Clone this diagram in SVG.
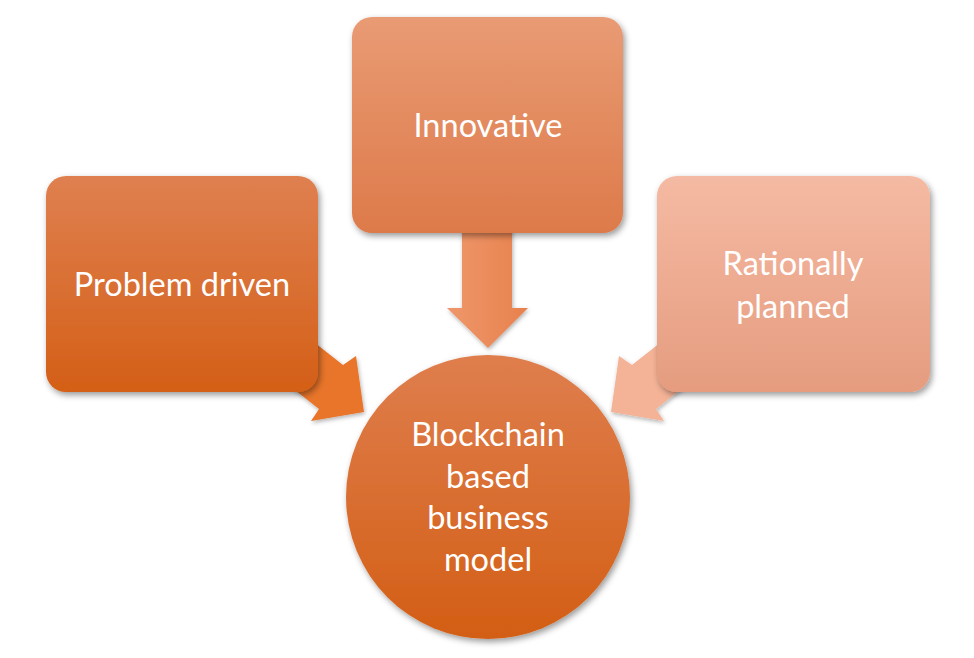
<svg xmlns="http://www.w3.org/2000/svg" width="974" height="658" viewBox="0 0 974 658">
  <defs>
    <linearGradient id="gLeft" x1="0" y1="0" x2="0" y2="1">
      <stop offset="0" stop-color="#DF8050"/>
      <stop offset="1" stop-color="#D45F17"/>
    </linearGradient>
    <linearGradient id="gTop" x1="0" y1="0" x2="0" y2="1">
      <stop offset="0" stop-color="#E99B74"/>
      <stop offset="1" stop-color="#DD7A4A"/>
    </linearGradient>
    <linearGradient id="gRight" x1="0" y1="0" x2="0" y2="1">
      <stop offset="0" stop-color="#F5BAA3"/>
      <stop offset="1" stop-color="#E59C7F"/>
    </linearGradient>
    <linearGradient id="gCircle" x1="0" y1="0" x2="0" y2="1">
      <stop offset="0" stop-color="#DF7E4D"/>
      <stop offset="1" stop-color="#D35E15"/>
    </linearGradient>
    <linearGradient id="gDown" x1="0" y1="0" x2="1" y2="0">
      <stop offset="0" stop-color="#EE976B"/>
      <stop offset="1" stop-color="#E8814D"/>
    </linearGradient>
    <filter id="shadow" x="-10%" y="-10%" width="130%" height="130%">
      <feDropShadow dx="2" dy="3" stdDeviation="3" flood-color="#000" flood-opacity="0.4"/>
    </filter>
    <filter id="ashadow" x="-20%" y="-20%" width="140%" height="140%">
      <feDropShadow dx="1" dy="2" stdDeviation="2" flood-color="#000" flood-opacity="0.3"/>
    </filter>
  </defs>
  <style>
    .lbl { font-family: Lato, "Liberation Sans", sans-serif; font-size: 32.5px; fill: #FFFFFF; text-anchor: middle; }
  </style>
  <rect width="974" height="658" fill="#FFFFFF"/>

  <g id="connectors">
    <polygon filter="url(#ashadow)" fill="#E8742B" points="296,328 343,365 356,356 364,412 311,421 319,409 272,372"/>
    <polygon filter="url(#ashadow)" fill="url(#gDown)" points="462,225 512,225 512,308 528,308 488,348 447,308 462,308"/>
    <polygon filter="url(#ashadow)" fill="#F4B296" points="679,328 632,365 619,356 611,412 664,421 656,409 703,372"/>
  </g>

  <g id="node-center">
    <circle cx="488" cy="497" r="142" fill="url(#gCircle)" filter="url(#shadow)"/>
    <text class="lbl" x="488" y="446">Blockchain</text>
    <text class="lbl" x="488" y="488">based</text>
    <text class="lbl" x="488" y="529">business</text>
    <text class="lbl" x="488" y="571">model</text>
  </g>

  <g id="node-problem">
    <rect x="46" y="176" width="272" height="216" rx="20" fill="url(#gLeft)" filter="url(#shadow)"/>
    <text class="lbl" x="182" y="296">Problem driven</text>
  </g>

  <g id="node-innovative">
    <rect x="352" y="17" width="271" height="216" rx="20" fill="url(#gTop)" filter="url(#shadow)"/>
    <text class="lbl" x="488" y="137">Innovative</text>
  </g>

  <g id="node-rational">
    <rect x="657" y="176" width="273" height="216" rx="20" fill="url(#gRight)" filter="url(#shadow)"/>
    <text class="lbl" x="793" y="275">Rationally</text>
    <text class="lbl" x="793" y="318">planned</text>
  </g>
</svg>
